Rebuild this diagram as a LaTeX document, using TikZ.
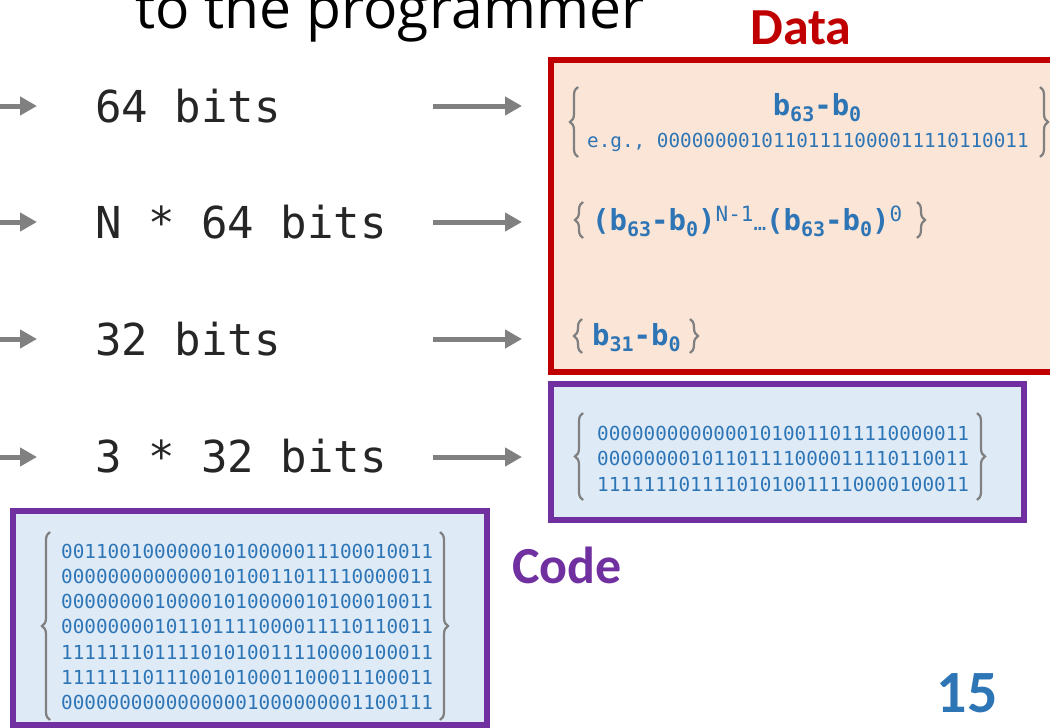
\documentclass[tikz,border=0pt]{standalone}
\usepackage{fontspec}
\setmainfont{Open Sans}
\newfontfamily\monofont{DejaVu Sans Mono}
\newfontfamily\headfont{Carlito}
\usetikzlibrary{arrows.meta}
\usetikzlibrary{decorations.pathreplacing}

\definecolor{data_red}{HTML}{C00000}
\definecolor{data_fill}{HTML}{FBE5D6}
\definecolor{code_purple}{HTML}{7030A0}
\definecolor{code_fill}{HTML}{DEEBF7}
\definecolor{bits_blue}{HTML}{2E75B6}
\definecolor{arrow_gray}{HTML}{808080}
\definecolor{label_dark}{HTML}{262626}

\newcommand\lo[1]{\raisebox{-6pt}{\fontsize{20}{20}\selectfont #1}}
\newcommand\hi[1]{\raisebox{9pt}{\fontsize{21}{21}\selectfont\mdseries #1}}

\tikzset{
        % Size labels on the left
        label_bits/.style={anchor=base west, inner sep=0pt, text=label_dark, font=\monofont\fontsize{44}{44}\selectfont},
        % Grey block arrows
        arrow_fat/.style={draw=arrow_gray, line width=5pt, -{Triangle[length=17pt,width=18pt]}},
        % Framed regions
        box_data/.style={rectangle, inner sep=0pt, draw=data_red, fill=data_fill, line width=6pt},
        box_code/.style={rectangle, inner sep=0pt, draw=code_purple, fill=code_fill, line width=6pt},
        % Bit patterns
        text_bin/.style={anchor=base west, inner sep=0pt, text=bits_blue, font=\monofont\fontsize{19.3}{19.3}\selectfont},
        text_bold/.style={inner sep=0pt, text=bits_blue, font=\monofont\bfseries\fontsize{29}{29}\selectfont},
        % Curly brackets
        brace_gray/.style={draw=arrow_gray, line width=2.2pt, decorate, decoration={brace, amplitude=8pt}},
        % Region headings
        heading/.style={anchor=base, inner sep=0pt, font=\headfont\bfseries\fontsize{52}{52}\selectfont}
}

\begin{document}
\begin{tikzpicture}[x=1pt, y=-1pt]
    \useasboundingbox (0,0) rectangle (1050,728);
    \clip (0,0) rectangle (1050,728);

    \node[anchor=base west, inner sep=0pt, font=\fontsize{57}{57}\selectfont] (title) at (135,28) {to the programmer};

    % regions
    \node[box_data, minimum width=505pt, minimum height=312pt] (data) at (803.5,216) {};
    \node[box_code, minimum width=473pt, minimum height=136pt] (words) at (787.5,452) {};
    \node[box_code, minimum width=474pt, minimum height=214pt] (code) at (250,618) {};

    \node[heading, text=data_red] (data_title) at (801,44) {Data};
    \node[heading, text=code_purple, anchor=base west] (code_title) at (512,583) {Code};
    \node[heading, text=bits_blue, font=\headfont\bfseries\fontsize{60}{60}\selectfont] (page) at (967,712) {15};

    % sizes and arrows
    \node[label_bits] (bits_a) at (95,122) {64 bits};
    \node[label_bits] (bits_b) at (95,238) {N * 64 bits};
    \node[label_bits] (bits_c) at (95,355) {32 bits};
    \node[label_bits] (bits_d) at (95,472) {3 * 32 bits};

    \foreach \y/\n in {106/a, 222/b, 339/c, 457/d} {
        \coordinate (in_\n) at (0,\y);
        \coordinate (mid_\n) at (37,\y);
        \coordinate (out_\n) at (433,\y);
        \coordinate (to_\n) at (522,\y);
        \draw[arrow_fat] (in_\n) -- (mid_\n);
        \draw[arrow_fat] (out_\n) -- (to_\n);
    }

    % data contents
    \node[text_bold, anchor=base] (d_word) at (817,115) {b\lo{63}-b\lo{0}};
    \node[text_bin] (d_eg) at (587,147) {e.g., 00000000101101111000011110110011};
    \node[text_bold, anchor=base west] (d_array) at (592,230)
        {(b\lo{63}-b\lo{0})\hi{N-1}{\mdseries\fontsize{21}{21}\selectfont…}(b\lo{63}-b\lo{0})\hi{0}};
    \node[text_bold, anchor=base west] (d_half) at (592,345) {b\lo{31}-b\lo{0}};

    % code contents
    \foreach \bits [count=\i] in {00000000000001010011011110000011,
                                  00000000101101111000011110110011,
                                  11111110111101010011110000100011}
        \node[text_bin] (word_\i) at (597,{440+25.5*(\i-1)}) {\bits};

    \foreach \bits [count=\i] in {00110010000001010000011100010011,
                                  00000000000001010011011110000011,
                                  00000000100001010000010100010011,
                                  00000000101101111000011110110011,
                                  11111110111101010011110000100011,
                                  11111110111001010001100011100011,
                                  00000000000000001000000001100111}
        \node[text_bin] (code_\i) at (61,{558+25.33*(\i-1)}) {\bits};

    % brackets
    \draw[brace_gray] (578,157) -- (578,87);
    \draw[brace_gray] (1040,87) -- (1040,157);
    \draw[brace_gray] (583,238) -- (583,202);
    \draw[brace_gray] (917,202) -- (917,238);
    \draw[brace_gray] (582,353) -- (582,319);
    \draw[brace_gray] (690,319) -- (690,353);
    \draw[brace_gray] (583,500) -- (583,413);
    \draw[brace_gray] (977,413) -- (977,500);
    \draw[brace_gray] (50,720) -- (50,532);
    \draw[brace_gray] (440,532) -- (440,720);
\end{tikzpicture}
\end{document}
